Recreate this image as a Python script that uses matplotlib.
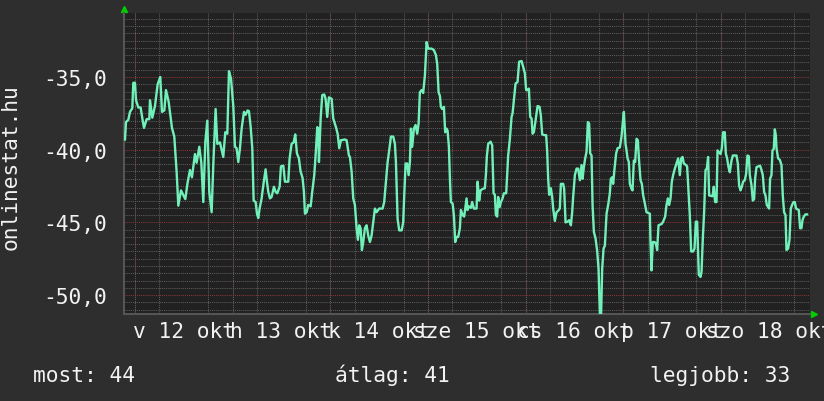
import matplotlib
matplotlib.use("Agg")
import matplotlib.pyplot as plt
from matplotlib.ticker import MultipleLocator, FuncFormatter

# hours since 2014-10-12 00:00 and (negated) rank
hours = [
    -2.46, -2.21, -1.64, -1.23, -0.66, -0.41, 0.0, 0.25, 0.82, 1.39, 1.72, 2.21,
    2.87, 3.52, 3.69, 4.26, 4.91, 5.57, 6.22, 6.63, 7.21, 7.62, 8.27, 9.09, 9.66,
    10.24, 10.65, 11.3, 12.37, 12.94, 13.51, 14.0, 14.74, 15.15, 15.81, 16.3,
    16.79, 17.28, 17.77, 18.26, 18.84, 19.25, 19.82, 20.23, 20.88, 21.7, 22.19,
    22.69, 23.1, 23.59, 24.16,
    24.57, 24.98, 25.39, 25.8, 26.21, 26.78, 27.19, 27.68, 28.01, 28.42, 28.83,
    29.16, 29.65, 29.98, 30.3, 30.63, 31.12, 31.61, 32.1, 32.43, 32.76, 33.17,
    33.58, 34.15, 34.56, 34.97, 35.55, 35.87, 36.45, 36.86, 37.67, 38.0, 38.49,
    38.99, 39.39, 39.8, 40.29, 40.7, 41.19, 41.52, 41.77, 42.19, 42.58, 43.17,
    43.56, 44.06, 44.47, 44.8, 45.04, 45.21, 45.63, 46.02, 46.51, 46.85, 47.25,
    47.67, 48.33, 48.72, 49.39, 49.8, 50.2, 50.61, 51.6, 52.01, 52.58,
    52.83, 53.24, 53.64, 54.05, 54.47, 54.79, 55.12, 55.45, 55.77, 56.1, 56.51,
    56.92, 57.32, 57.74, 58.15, 58.55, 58.97, 59.38, 60.02, 60.86, 61.25, 61.67,
    62.09, 62.48, 62.9, 63.47, 63.88, 64.13, 64.54, 64.94, 65.53, 65.92, 66.17,
    66.51, 66.9, 67.25, 67.57, 67.81, 68.13, 68.55, 68.96, 69.36, 69.7, 70.02,
    70.44, 70.83, 71.25, 71.67, 72.06, 72.9, 73.46, 73.96, 74.28, 74.62, 74.94,
    75.18, 75.5, 75.92, 76.24, 76.58, 76.83, 77.15, 77.4, 77.64, 78.06, 78.38,
    78.7, 79.04, 79.44, 79.85, 80.1, 80.52, 80.91,
    81.49, 81.74, 82.06, 82.56, 82.87, 83.29, 83.95, 84.2, 84.6, 84.93, 85.43,
    85.99, 86.24, 86.49, 86.81, 87.4, 87.79, 88.13, 88.45, 88.7, 89.02, 89.26,
    89.61, 89.93, 90.34, 90.66, 91.23, 91.47, 91.72, 92.14, 92.55, 92.8, 93.12,
    93.53, 94.02, 94.42, 95.0, 95.4, 95.82, 96.14, 96.48, 96.81, 97.13, 97.47,
    97.71, 98.03, 98.45, 98.94, 99.43, 99.75, 100.08, 100.57, 101.06, 101.31,
    101.55, 101.8, 102.21, 102.54, 102.78, 103.19, 103.61, 104.0, 104.42, 104.67,
    105.24, 105.48, 105.82, 106.31, 106.71, 107.13, 107.45, 107.69, 108.11,
    108.53, 108.92, 109.34, 109.75,
    110.0, 110.32, 110.64, 110.98, 111.3, 111.62, 111.87, 112.21, 112.46, 112.78,
    113.19, 113.59, 113.93, 114.25, 114.57, 114.82, 115.16, 115.48, 115.9,
    116.29, 116.71, 116.95, 117.27, 117.52, 117.86, 118.26, 118.6, 119.16,
    119.58, 119.83, 120.15, 120.56, 120.81, 121.06, 121.38, 121.62, 122.04,
    122.29, 122.6, 122.93, 123.27, 123.59, 123.91, 124.25, 124.57, 124.9,
    125.31, 125.72, 126.54, 126.7, 126.95, 127.27, 127.69, 128.01, 128.33,
    128.67, 129.48, 129.8, 130.3, 130.63, 130.96, 131.28, 131.62, 131.94,
    132.26, 132.68, 133.09, 133.49, 133.91, 134.23, 134.57, 134.89, 135.38,
    135.7, 136.04, 136.36, 136.69, 137.17, 137.52, 137.84, 138.16,
    138.57, 138.99, 139.24, 139.56, 139.88, 140.22, 140.54, 140.86, 141.11,
    141.94, 142.26, 142.58, 142.92, 143.17, 143.91, 144.23, 144.55, 144.96,
    145.21, 145.53, 145.87, 146.19, 146.61, 146.93, 147.84, 148.16, 148.48,
    148.82, 149.14, 149.46, 149.88, 150.2, 150.54, 150.86, 151.11, 151.52,
    151.84, 152.16, 152.41, 152.75, 153.64, 153.98, 154.3, 154.62, 154.96,
    155.28, 155.85, 156.09, 156.43, 156.68, 157.0, 157.25, 157.49, 157.67,
    158.06, 158.48, 158.89, 159.21, 159.53, 159.88, 160.12, 160.52, 160.86,
    161.18, 161.5, 161.84, 162.16, 162.48, 163.14, 163.47, 163.8, 164.05,
    164.37, 164.79, 165.18,
]
rank = [
    -39.3, -38.1, -37.95, -37.4, -37.15, -35.4, -35.4, -36.6, -37.1, -37.1, -37.7, -38.5,
    -37.9, -37.9, -36.6, -37.8, -37.0, -35.5, -35.0, -37.4, -37.3, -35.9, -36.7, -38.5, -39.1,
    -41.55, -43.85, -42.8, -43.4, -42.25, -41.4, -41.9, -40.3, -40.9, -39.8, -40.9,
    -43.6, -39.5, -38.0, -42.9, -44.3, -41.0, -37.2, -39.6, -39.5, -40.5, -38.8,
    -38.9, -34.6, -35.1, -37.0,
    -39.8, -39.9, -40.85, -39.9, -38.55, -37.4, -37.6, -37.3, -37.35, -38.4, -39.9,
    -43.5, -43.6, -44.4, -44.7, -44.05, -43.35, -42.3, -41.35, -42.2, -42.9, -43.35,
    -43.25, -42.55, -42.9, -43.0, -42.55, -41.15, -41.1, -42.2, -42.2, -40.6, -39.6,
    -39.5, -38.95, -40.25, -40.6, -41.5, -41.95, -42.9, -44.4, -44.3, -43.8, -43.9,
    -42.9, -41.75, -40.05, -38.45, -38.55, -40.85, -37.85, -36.25, -36.2, -36.5, -37.75,
    -36.4, -36.5, -37.85, -38.45, -38.9, -39.9, -39.35, -39.3, -39.35, -40.4,
    -40.5, -41.5, -43.35, -43.8, -45.4, -46.2, -45.2, -45.4, -46.9, -46.35, -45.4,
    -45.2, -45.9, -46.35, -45.9, -45.0, -44.05, -44.3, -44.05, -44.05, -43.6, -42.2,
    -40.85, -40.05, -39.1, -39.1, -39.6, -40.85, -44.75, -45.55, -45.55, -45.0, -43.15,
    -40.95, -40.95, -41.75, -40.85, -38.55, -39.8, -38.55, -38.3, -38.9, -38.2, -36.05,
    -35.9, -36.1, -34.9, -32.6, -33.05, -33.05, -33.15, -33.5, -34.1, -36.05, -36.3,
    -37.05, -37.2, -37.05, -38.8, -38.55, -38.7, -39.8, -42.0, -43.6, -43.7, -44.5,
    -46.35, -46.0, -46.0, -45.4, -44.15, -44.5, -44.6,
    -43.35, -44.15, -43.9, -44.0, -43.6, -44.05, -44.05, -42.2, -43.5, -42.8, -42.7,
    -42.65, -41.75, -40.4, -39.6, -39.45, -39.7, -43.0, -43.1, -44.5, -44.6, -43.25,
    -43.95, -43.6, -43.35, -43.0, -43.0, -41.75, -40.4, -39.25, -37.75, -37.5, -36.6,
    -35.45, -35.35, -33.95, -33.9, -34.3, -34.75, -35.9, -35.9, -35.8, -37.75, -37.85,
    -38.9, -38.8, -38.0, -37.0, -37.05, -37.65, -38.95, -39.0, -39.0, -40.15,
    -42.0, -43.1, -42.65, -43.25, -44.05, -44.9, -44.3, -44.2, -44.05, -42.35,
    -42.35, -42.7, -45.0, -44.95, -44.85, -45.2, -44.3, -43.25, -41.75,
    -41.3, -41.3, -42.1, -41.05,
    -42.0, -41.2, -40.6, -40.15, -38.1, -38.2, -40.25, -40.4, -43.8, -45.65,
    -46.1, -46.95, -48.2, -51.25, -51.25, -48.2, -46.8, -46.6, -44.4,
    -43.8, -43.0, -42.0, -41.9, -42.35, -41.3, -40.25, -39.9, -39.85,
    -39.1, -38.3, -37.4, -39.6, -40.05, -40.6, -40.85, -42.35, -42.7,
    -42.8, -40.75, -40.85, -39.25, -39.35, -40.85, -42.1, -42.35, -43.15,
    -43.7, -44.3, -44.4, -46.35, -48.3, -46.35, -46.35, -46.45, -46.9,
    -45.2, -45.1, -44.95, -44.6, -43.8, -43.35, -43.8, -43.35, -42.2,
    -41.75, -41.3, -40.95, -40.6, -41.75, -40.6, -40.5, -40.95, -41.05,
    -41.15, -42.9, -44.5, -47.0, -47.0, -46.8, -44.95, -44.95,
    -48.6, -48.75, -48.4, -46.1, -44.3, -41.4, -41.3, -40.5, -43.15,
    -43.2, -42.55, -43.6, -43.6, -40.05, -40.3, -39.9, -38.8, -38.8,
    -40.25, -40.6, -41.2, -41.55, -40.75, -40.4, -40.4, -40.95, -42.45,
    -42.8, -42.55, -42.2, -42.1, -41.65, -40.4, -40.45, -41.75, -42.45,
    -43.5, -43.4, -42.0, -41.2, -41.1, -41.4, -41.75, -42.9, -43.15,
    -43.8, -44.05, -42.0, -41.75, -40.05, -39.95, -38.6, -39.0, -39.9,
    -40.6, -40.7, -41.05, -43.15, -44.3, -44.5, -46.9, -46.8, -46.2,
    -44.05, -43.8, -43.6, -43.6, -44.05, -44.15, -45.4, -45.4, -44.85,
    -44.6, -44.45, -44.45,
]

day_labels = ["v 12 okt", "h 13 okt", "k 14 okt", "sze 15 okt",
              "cs 16 okt", "p 17 okt", "szo 18 okt"]
stats = ["most: 44", "átlag: 41", "legjobb: 33"]

BG = "#2e2e2e"
PLOT_BG = "#212121"
TXT = "#f2f2f2"
MINOR = "#5c5c5c"
MAJOR = "#8a3535"
DOTS = (0, (1, 1))
FS = 15.3
plt.rcParams["font.family"] = ["DejaVu Sans Mono", "DejaVu Sans"]

fig = plt.figure(figsize=(8.24, 4.02), dpi=100, facecolor=BG)
ax = fig.add_axes([124 / 824, 87 / 402, 686 / 824, 301 / 402], facecolor=PLOT_BG)

ax.plot(hours, rank, color="#72f0b9", lw=1.7, zorder=3)

ax.set_xlim(-2.7, 165.9)
ax.set_ylim(-51.3, -30.6)

# grid: minor grey every 6 h / 0.5, major red per day / 5
ax.xaxis.set_minor_locator(MultipleLocator(6))
ax.yaxis.set_minor_locator(MultipleLocator(0.5))
ax.set_xticks([12 + 24 * i for i in range(len(day_labels))])
ax.set_xticklabels(day_labels)
ax.set_yticks([-50, -45, -40, -35])
ax.yaxis.set_major_formatter(FuncFormatter(lambda v, p: f"{v:.1f}".replace(".", ",")))
ax.grid(which="minor", color=MINOR, linestyle=DOTS, linewidth=0.75)
for i in range(len(day_labels)):
    ax.axvline(24 * i, color=MAJOR, linestyle=DOTS, linewidth=0.75, zorder=1)
for v in [-50, -45, -40, -35]:
    ax.axhline(v, color=MAJOR, linestyle=DOTS, linewidth=0.75, zorder=1)

ax.tick_params(which="both", length=0, colors=TXT, labelsize=FS)
ax.tick_params(axis="x", pad=5)
ax.tick_params(axis="y", pad=12)
for s in ["top", "right"]:
    ax.spines[s].set_visible(False)
for s in ["left", "bottom"]:
    ax.spines[s].set_color("#555555")
    ax.spines[s].set_linewidth(1.5)

# rrdtool style axis arrows
ax.plot([0], [1.012], marker="^", color="#00d000", markersize=5,
        transform=ax.transAxes, clip_on=False)
ax.plot([1.006], [0], marker=">", color="#00d000", markersize=5,
        transform=ax.transAxes, clip_on=False)

fig.text(11 / 824, 1 - 167 / 402, "onlinestat.hu", rotation=90, color=TXT,
         fontsize=FS, ha="center", va="center")
for x, s in zip([33, 335, 650], stats):
    fig.text(x / 824, 20 / 402, s, color=TXT, fontsize=FS, ha="left", va="baseline")

fig.savefig("out.png", dpi=100, facecolor=BG)
